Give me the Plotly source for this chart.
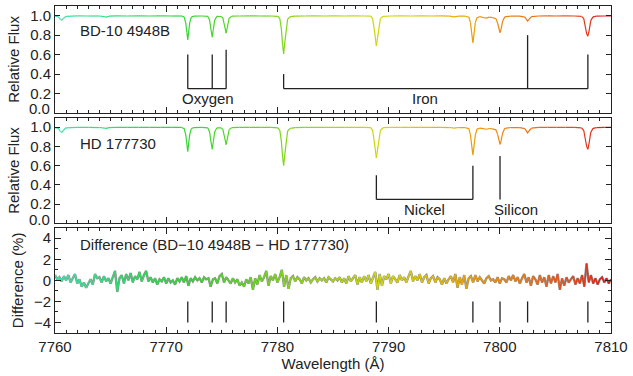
import numpy as np
import plotly.graph_objects as go

# ---------------- data ----------------
spec_wl = [7760.00, 7760.30, 7760.48, 7760.62, 7760.78, 7761.00, 7762.00, 7763.00, 7764.00, 7764.45,
           7764.62, 7764.85, 7765.50, 7766.50, 7767.50, 7768.50, 7769.50, 7770.50, 7771.40, 7771.62,
           7771.76, 7771.86, 7771.94, 7772.02, 7772.12, 7772.26, 7772.50, 7773.20, 7773.75, 7773.90,
           7774.04, 7774.14, 7774.24, 7774.36, 7774.55, 7774.95, 7775.10, 7775.24, 7775.39, 7775.52,
           7775.66, 7775.90, 7776.60, 7777.50, 7778.50, 7779.40, 7780.05, 7780.22, 7780.36, 7780.46,
           7780.56, 7780.66, 7780.78, 7780.92, 7781.15, 7781.60, 7782.40, 7783.30, 7784.20, 7785.10,
           7786.00, 7786.90, 7787.80, 7788.40, 7788.56, 7788.70, 7788.81, 7788.90, 7789.00, 7789.12,
           7789.26, 7789.50, 7790.20, 7791.10, 7792.00, 7792.90, 7793.80, 7794.70, 7795.50, 7795.90,
           7796.30, 7796.90, 7797.22, 7797.36, 7797.48, 7797.58, 7797.68, 7797.80, 7797.95, 7798.20,
           7798.50, 7798.80, 7799.05, 7799.35, 7799.65, 7799.80, 7799.92, 7800.02, 7800.12, 7800.26,
           7800.45, 7801.00, 7801.80, 7802.25, 7802.40, 7802.50, 7802.62, 7802.85, 7803.50, 7804.30,
           7805.10, 7805.90, 7806.70, 7807.35, 7807.55, 7807.70, 7807.82, 7807.92, 7808.04, 7808.18,
           7808.38, 7808.70, 7809.40, 7810.00]

flux_bd = [0.996, 0.990, 0.962, 0.955, 0.975, 0.994, 0.998, 0.997, 0.997, 0.990,
           0.986, 0.995, 0.998, 0.997, 0.998, 0.997, 0.998, 0.997, 0.997, 0.985,
           0.925, 0.830, 0.750, 0.835, 0.930, 0.985, 0.996, 0.997, 0.993, 0.955,
           0.850, 0.780, 0.860, 0.955, 0.993, 0.992, 0.975, 0.900, 0.820, 0.900,
           0.975, 0.995, 0.997, 0.998, 0.997, 0.997, 0.994, 0.970, 0.860, 0.710,
           0.608, 0.720, 0.870, 0.965, 0.990, 0.995, 0.997, 0.998, 0.997, 0.998,
           0.997, 0.998, 0.997, 0.995, 0.970, 0.870, 0.750, 0.690, 0.760, 0.880,
           0.970, 0.994, 0.997, 0.998, 0.997, 0.998, 0.997, 0.998, 0.996, 0.988,
           0.996, 0.995, 0.985, 0.930, 0.810, 0.720, 0.810, 0.930, 0.980, 0.990,
           0.982, 0.975, 0.985, 0.980, 0.970, 0.925, 0.855, 0.825, 0.865, 0.945,
           0.988, 0.996, 0.995, 0.985, 0.960, 0.945, 0.962, 0.990, 0.997, 0.998,
           0.997, 0.998, 0.997, 0.994, 0.970, 0.880, 0.810, 0.790, 0.850, 0.950,
           0.988, 0.995, 0.997, 0.998]

flux_hd = [0.996, 0.988, 0.955, 0.946, 0.970, 0.993, 0.997, 0.998, 0.996, 0.990,
           0.987, 0.995, 0.997, 0.998, 0.997, 0.998, 0.997, 0.998, 0.997, 0.984,
           0.920, 0.825, 0.745, 0.830, 0.925, 0.985, 0.996, 0.997, 0.992, 0.950,
           0.840, 0.770, 0.850, 0.950, 0.992, 0.992, 0.975, 0.900, 0.818, 0.900,
           0.975, 0.995, 0.998, 0.997, 0.998, 0.997, 0.993, 0.965, 0.850, 0.700,
           0.600, 0.710, 0.860, 0.960, 0.988, 0.995, 0.997, 0.997, 0.998, 0.997,
           0.998, 0.997, 0.997, 0.995, 0.965, 0.860, 0.740, 0.680, 0.750, 0.870,
           0.965, 0.994, 0.997, 0.997, 0.998, 0.997, 0.998, 0.997, 0.996, 0.990,
           0.996, 0.995, 0.983, 0.920, 0.800, 0.710, 0.800, 0.920, 0.978, 0.990,
           0.984, 0.978, 0.986, 0.982, 0.972, 0.925, 0.855, 0.820, 0.860, 0.940,
           0.988, 0.996, 0.995, 0.985, 0.958, 0.940, 0.960, 0.990, 0.997, 0.997,
           0.998, 0.997, 0.997, 0.993, 0.965, 0.870, 0.795, 0.770, 0.840, 0.945,
           0.987, 0.995, 0.997, 0.998]

diff_start = 7760.0
diff_step = 0.2
diff_pct = [0.5, 0.1, 0.3, -0.1, 0.4, 0.0, 0.5, -0.2, 0.2, 0.6,
            -0.3, 0.1, -0.6, -0.2, -0.7, -0.3, 0.1, -0.4, 0.6, 0.2,
            0.3, -0.2, 0.4, -0.1, 0.2, -0.3, 0.3, 0.9, -1.1, 0.2,
            0.5, -0.3, 0.6, 0.0, 0.7, -0.2, 0.4, 0.1, 0.8, -0.1,
            0.5, 0.9, -0.1, 0.3, -0.2, 0.2, -0.4, 0.1, -0.1, 0.3,
            -0.3, 0.2, -0.2, 0.0, -0.4, 0.2, -0.1, 0.3, -0.2, 0.4,
            -0.5, 0.2, -0.1, 0.3, 0.0, 0.2, -0.2, 0.3, 0.1, 0.2,
            -0.6, 0.1, 0.2, -0.3, 0.4, 0.6, -0.2, 0.3, 0.0, -0.3,
            0.2, -0.2, 0.1, -0.5, -0.2, -0.6, 0.1, -0.3, 0.3, -0.9,
            0.2, -0.4, 0.5, -0.1, 0.3, 0.9, -0.5, 0.4, 0.0, 0.6,
            -0.2, 0.3, 1.0, -0.6, 0.5, -0.8, 0.2, 0.4, -0.1, 0.3,
            0.1, -0.3, 0.3, 0.0, 0.2, -0.2, 0.1, 0.3, -0.1, 0.2,
            0.0, 0.2, -0.2, 0.3, 0.1, -0.1, 0.2, 0.0, 0.3, -0.2,
            0.2, -0.3, 0.4, -0.1, 0.2, 0.5, -0.4, 0.3, -0.2, 0.4,
            -0.1, 0.5, -0.3, 0.2, 0.8, -0.9, 0.6, -0.5, 0.4, 0.1,
            0.6, -0.3, 0.4, 0.1, -0.2, 0.5, 0.0, 0.3, -0.2, 0.4,
            0.9, -0.1, 0.4, 0.0, 0.6, -0.2, 0.3, 0.5, -0.3, 0.2,
            0.4, -0.2, 0.3, 0.1, -0.4, 0.2, -0.3, 0.1, 0.4, -0.2,
            0.6, -0.7, 0.3, -0.4, 0.5, -0.8, 0.2, 0.4, -0.2, 0.5,
            -0.1, 0.3, 0.0, -0.3, 0.2, 0.4, 0.0, 0.1, -0.2, 0.3,
            -0.3, 0.2, 0.1, -0.2, 0.4, 0.0, 0.5, -0.1, 0.3, -0.3,
            0.2, 0.6, -0.2, 0.3, -0.5, 0.4, 0.1, -0.4, 0.5, -0.2,
            0.3, -0.6, 0.5, -0.3, 0.4, -0.2, 0.6, -0.9, 0.2, -0.5,
            0.3, -0.2, 0.1, 0.4, -0.4, 0.2, -0.3, 0.5, -0.6, 1.6,
            -0.2, 0.5, -0.3, 0.2, -0.4, 0.1, 0.3, -0.2, 0.2, -0.3,
            0.1]
diff_wl = [round(diff_start + i * diff_step, 2) for i in range(len(diff_pct))]

line_wl = [7771.94, 7774.14, 7775.39, 7780.56, 7788.90, 7797.58, 7800.02, 7802.50, 7807.92]
oxygen_wl = [7771.94, 7774.14, 7775.39]
oxygen_top = [0.60, 0.60, 0.65]
iron_wl = [7780.56, 7802.50, 7807.92]
iron_top = [0.40, 0.80, 0.60]
nickel_wl = [7788.90, 7797.58]
nickel_top = [0.50, 0.60]
silicon_wl = [7800.02]
silicon_top = [0.70]
bracket_base = 0.25
diff_mark = [-2.0, -4.0]

flux_ticks = [0.0, 0.2, 0.4, 0.6, 0.8, 1.0]
flux_ticktext = ["", "0.2", "0.4", "0.6", "0.8", "1.0"]
x_range = [7760, 7810]

# ---------------- styling helpers ----------------
color_stops = [(7760, (64, 227, 176)), (7766, (46, 219, 110)), (7772, (51, 214, 51)),
               (7780, (122, 214, 26)), (7786, (184, 214, 10)), (7790, (214, 214, 10)),
               (7795, (230, 184, 0)), (7798, (235, 154, 10)), (7802, (235, 122, 20)),
               (7806, (230, 80, 30)), (7810, (224, 20, 20))]
cs_x = np.array([s[0] for s in color_stops], float)
cs_rgb = np.array([s[1] for s in color_stops], float)


def wl_color(w):
    r, g, b = (np.interp(w, cs_x, cs_rgb[:, k]) for k in range(3))
    return f"rgb({int(r)},{int(g)},{int(b)})"


def gradient_traces(x, y, xa, ya, width, maxspan):
    traces = []
    n = len(x)
    i = 0
    while i < n - 1:
        j = i + 1
        while j < n - 1 and x[j + 1] - x[i] <= maxspan:
            j += 1
        mid = 0.5 * (x[i] + x[j])
        traces.append(go.Scatter(x=x[i:j + 1], y=y[i:j + 1], mode="lines",
                                 line=dict(color=wl_color(mid), width=width),
                                 xaxis=xa, yaxis=ya, hoverinfo="skip", showlegend=False))
        i = j
    return traces


def bracket(wls, tops, base):
    xs, ys = [min(wls), max(wls), None], [base, base, None]
    for w, t in zip(wls, tops):
        xs += [w, w, None]
        ys += [base, t, None]
    return xs, ys


fig = go.Figure()
ink = "#222222"

# panel 1 (top)
for tr in gradient_traces(spec_wl, flux_bd, "x", "y", 1.2, 0.5):
    fig.add_trace(tr)
for wls, tops in [(oxygen_wl, oxygen_top), (iron_wl, iron_top)]:
    bx, by = bracket(wls, tops, bracket_base)
    fig.add_trace(go.Scatter(x=bx, y=by, mode="lines", line=dict(color=ink, width=1.3),
                             xaxis="x", yaxis="y", hoverinfo="skip", showlegend=False))

# panel 2
for tr in gradient_traces(spec_wl, flux_hd, "x2", "y2", 1.2, 0.5):
    fig.add_trace(tr)
for wls, tops in [(nickel_wl, nickel_top), (silicon_wl, silicon_top)]:
    bx, by = bracket(wls, tops, bracket_base)
    fig.add_trace(go.Scatter(x=bx, y=by, mode="lines", line=dict(color=ink, width=1.3),
                             xaxis="x2", yaxis="y2", hoverinfo="skip", showlegend=False))

# panel 3
fig.add_trace(go.Scatter(x=diff_wl, y=diff_pct, mode="lines",
                         line=dict(color="rgba(50,50,50,0.55)", width=2.4),
                         xaxis="x3", yaxis="y3", hoverinfo="skip", showlegend=False))
for tr in gradient_traces(diff_wl, diff_pct, "x3", "y3", 1.4, 0.6):
    fig.add_trace(tr)
mx, my = [], []
for w in line_wl:
    mx += [w, w, None]
    my += [diff_mark[0], diff_mark[1], None]
fig.add_trace(go.Scatter(x=mx, y=my, mode="lines", line=dict(color=ink, width=1.3),
                         xaxis="x3", yaxis="y3", hoverinfo="skip", showlegend=False))

font_family = "Liberation Sans, Arial, Helvetica, sans-serif"
fs = 15

xbase = dict(range=x_range, showline=True, linecolor=ink, linewidth=1, mirror="allticks",
             ticks="inside", ticklen=6, tickcolor=ink, tickmode="linear", tick0=7760, dtick=10,
             minor=dict(ticks="inside", ticklen=3, dtick=1, tickcolor=ink),
             showgrid=False, zeroline=False)
ybase = dict(showline=True, linecolor=ink, linewidth=1, mirror="allticks", ticks="inside",
             ticklen=5, tickcolor=ink, showgrid=False, zeroline=False,
             tickfont=dict(size=fs, color=ink))

fig.update_layout(
    width=633, height=376,
    margin=dict(l=55, r=17, t=5, b=43),
    paper_bgcolor="white", plot_bgcolor="white",
    font=dict(family=font_family, size=fs, color=ink),
    xaxis=dict(xbase, anchor="y", domain=[0, 1], showticklabels=False),
    xaxis2=dict(xbase, anchor="y2", domain=[0, 1], showticklabels=False, matches="x"),
    xaxis3=dict(xbase, anchor="y3", domain=[0, 1], showticklabels=True, matches="x",
                tickfont=dict(size=fs, color=ink),
                title=dict(text="Wavelength (Å)", standoff=4, font=dict(size=fs))),
    yaxis=dict(ybase, domain=[0.673, 1.0], range=[0, 1.1], tickmode="array",
               tickvals=flux_ticks, ticktext=flux_ticktext,
               title=dict(text="Relative Flux", standoff=6, font=dict(size=fs))),
    yaxis2=dict(ybase, domain=[0.335, 0.659], range=[0, 1.1], tickmode="array",
                tickvals=flux_ticks, ticktext=flux_ticktext,
                title=dict(text="Relative Flux", standoff=6, font=dict(size=fs))),
    yaxis3=dict(ybase, domain=[0.0, 0.322], range=[-5, 5], tickmode="linear", tick0=0,
                dtick=2, ticklen=6, minor=dict(ticks="inside", ticklen=3, dtick=1, tickcolor=ink),
                title=dict(text="Difference (%)", standoff=6, font=dict(size=fs))),
)

ann = [
    dict(text="BD-10 4948B", x=7762.1, y=0.85, xref="x", yref="y", xanchor="left"),
    dict(text="Oxygen", x=7773.8, y=0.145, xref="x", yref="y", xanchor="center"),
    dict(text="Iron", x=7793.3, y=0.145, xref="x", yref="y", xanchor="center"),
    dict(text="HD 177730", x=7762.1, y=0.835, xref="x2", yref="y2", xanchor="left"),
    dict(text="Nickel", x=7793.2, y=0.15, xref="x2", yref="y2", xanchor="center"),
    dict(text="Silicon", x=7801.5, y=0.15, xref="x2", yref="y2", xanchor="center"),
    dict(text="Difference (BD\u221210 4948B \u2212 HD 177730)", x=7762.1, y=3.4,
         xref="x3", yref="y3", xanchor="left"),
]
for a in ann:
    fig.add_annotation(**a, yanchor="middle", showarrow=False,
                       font=dict(family=font_family, size=fs, color=ink))

# the lowest flux label sits slightly above its tick, as in the original
for yr in ["y", "y2"]:
    fig.add_annotation(text="0.0", x=0, xref="paper", y=0.045, yref=yr, xanchor="right",
                       yanchor="middle", xshift=-3, showarrow=False,
                       font=dict(family=font_family, size=fs, color=ink))

fig.write_html("out.html")
